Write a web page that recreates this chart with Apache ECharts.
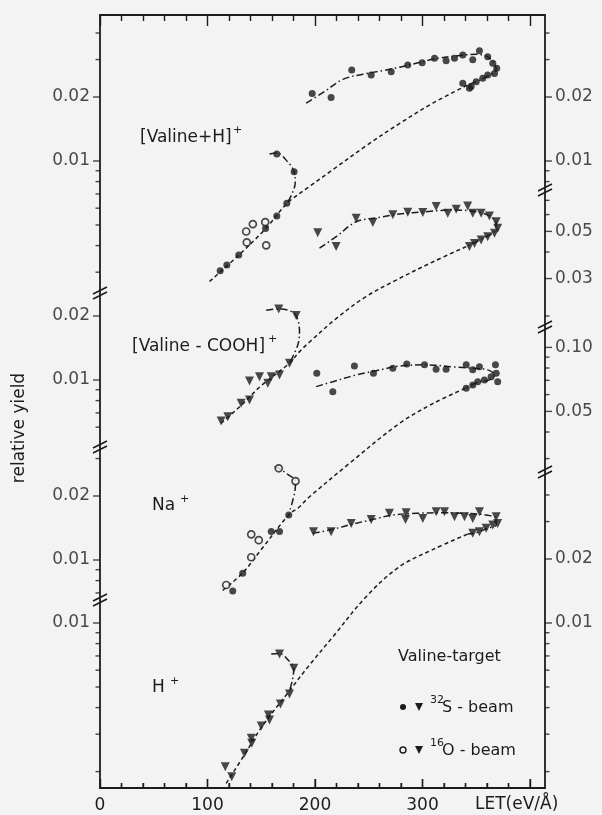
<!DOCTYPE html>
<html>
<head>
<meta charset="utf-8">
<script src="https://cdn.jsdelivr.net/npm/echarts@6/dist/echarts.min.js"></script>
<style>
html,body{margin:0;padding:0;background:#f3f3f3;}
#chart{width:602px;height:815px;}
</style>
</head>
<body>
<div id="chart"></div>
<script>
// LET axis
var letLabels = [0, 100, 200, 300];
var XMAX = 414;

// [Valine+H]+  (LET, relative yield)
var vhLowFilled = [[111.8,0.00305],[118,0.00324],[129.1,0.00361],[154,0.00482],[164.5,0.00551],[173.8,0.00633],[180.6,0.0089],[164.5,0.0108]];
var vhLowOpen = [[136,0.00466],[136.6,0.00414],[142.2,0.00505],[153.7,0.00516],[154.6,0.00401]];
var vhHook = [[157.7,0.0108],[164.5,0.0109],[174.7,0.0099],[180.6,0.0089],[181.6,0.0079],[178,0.0069],[173.8,0.0063]];
var vhFit = [[101.9,0.00271],[129.1,0.00361],[154,0.0048],[173.8,0.0063],[195,0.0076],[216.6,0.0091],[247.6,0.0118],[278.6,0.0150],[309.6,0.0187],[342.1,0.0228]];
var vhHigh = [[197.4,0.0208],[215,0.0199],[234.2,0.0268],[252.3,0.0254],[270.9,0.0263],[286.3,0.0283],[299.7,0.0290],[311.2,0.0304],[322,0.0296],[329.8,0.0304],[337.5,0.0315],[346.8,0.0299],[353,0.0330],[360.7,0.0309],[365.4,0.0288],[369.1,0.0273],[367,0.0258],[360.7,0.0254],[356.1,0.0245],[350,0.0236],[345.3,0.0224],[337.5,0.0232],[343.7,0.0220]];
var vhHighFit = [[191.8,0.0187],[208.8,0.0212],[225.9,0.0242],[244.5,0.0256],[263.1,0.0266],[278.6,0.0276],[294.1,0.0288],[309.6,0.0301],[331.4,0.0312],[350,0.0318],[360.7,0.0309],[367,0.0288],[368.6,0.0268],[362.3,0.0254],[353,0.0240],[342.1,0.0228]];

// [Valine-COOH]+
var vcLow = [[112.7,0.00641],[118.9,0.00672],[131.3,0.00777],[139.1,0.00805],[139.1,0.00989],[148.4,0.01036],[156.1,0.00965],[159.3,0.01036],[167,0.01055],[176.3,0.01198],[166.3,0.0216],[182.5,0.0201]];
var vcHook = [[154.6,0.0213],[166.3,0.0216],[176,0.0212],[182.5,0.0201],[185.6,0.0169],[184,0.0146],[176.3,0.0120]];
var vcFit = [[112.7,0.00626],[131.3,0.0076],[150,0.0094],[176.3,0.0120],[185.6,0.0136],[195,0.0151],[220,0.0195],[247.6,0.0247],[275.5,0.0295],[310,0.0360],[340.7,0.0424]];
var vcHigh = [[202.6,0.0493],[219.7,0.0424],[238.3,0.0577],[253.8,0.0550],[272.4,0.0598],[286.3,0.0616],[300.3,0.0614],[312.7,0.0654],[323.5,0.0609],[331.4,0.0635],[342.1,0.0658],[346.8,0.0609],[354.6,0.0609],[362.3,0.0591],[368.6,0.0555],[370,0.0517],[367,0.0490],[360.7,0.0472],[354.6,0.0455],[348.4,0.0439],[343.7,0.0424]];
var vcHighFit = [[204.2,0.0417],[219.7,0.0472],[238.3,0.0555],[260,0.0582],[278.6,0.0604],[303.4,0.0619],[328.2,0.0631],[350,0.0619],[362.3,0.0591],[368.6,0.0546],[367,0.0498],[359.3,0.0472],[350,0.0447],[340.7,0.0424]];

// Na+
var naLowOpen = [[166.3,0.0270],[181.9,0.0235],[140.7,0.0132],[147.7,0.0124],[140.7,0.0103],[117.4,0.00763]];
var naLowFilled = [[175.6,0.0163],[159.3,0.0136],[167,0.0136],[132.8,0.00866],[123.5,0.00715]];
var naHook = [[162.3,0.0275],[166.3,0.0270],[175,0.0252],[181.9,0.0235],[181,0.0206],[176.3,0.0169]];
var naFit = [[114.2,0.0072],[132.8,0.0087],[150,0.0112],[175.6,0.0163],[185.6,0.0178],[193.3,0.0195],[232.1,0.0285],[278.6,0.0439],[310,0.0545],[340.7,0.0645]];
var naHigh = [[201.7,0.0755],[216.6,0.0619],[236.7,0.0817],[254.4,0.0755],[272.4,0.0798],[285.4,0.0836],[301.9,0.0828],[312.7,0.0790],[322,0.0790],[340.7,0.0828],[346.8,0.0784],[353,0.0810],[367.9,0.0828],[368.6,0.0755],[370,0.0690],[363.9,0.0728],[357.7,0.0703],[351.4,0.0690],[346.8,0.0666],[340.7,0.0642]];
var naHighFit = [[201.1,0.0654],[216.6,0.0690],[238.3,0.0742],[256.9,0.0777],[278.6,0.0817],[303,0.0828],[328.2,0.0810],[346.8,0.0798],[360.7,0.0784],[367,0.0742],[362.3,0.0703],[353,0.0690],[340.7,0.0645]];

// H+
var hpLow = [[116.5,0.00211],[122.6,0.00189],[134.4,0.00244],[140.7,0.00287],[141.2,0.00272],[150,0.00328],[156.7,0.00369],[157.7,0.00350],[167.9,0.00416],[176.3,0.00463],[167,0.00715],[180.3,0.00612]];
var hpHook = [[159.3,0.00715],[167,0.00718],[175,0.0067],[180.3,0.00612],[179,0.00539],[176.3,0.0048]];
var hpFit = [[117.4,0.00176],[134.4,0.00240],[150,0.00322],[176.3,0.0048],[193.3,0.0062],[216.6,0.0086],[247.6,0.0133],[278.6,0.0184],[310,0.0222],[342.1,0.0262]];
var hpHigh = [[198.6,0.0269],[215,0.0269],[233.7,0.0294],[252.3,0.0307],[269.3,0.0328],[284.8,0.0330],[284.2,0.0307],[300.3,0.0310],[312.7,0.0334],[320.5,0.0334],[329.8,0.0316],[339.1,0.0316],[346.8,0.0310],[353,0.0334],[368.6,0.0316],[370,0.0294],[365.4,0.0289],[359.3,0.0279],[353,0.0269],[346.8,0.0264]];
var hpHighFit = [[198,0.0264],[216.6,0.0276],[235.2,0.0292],[253.8,0.0307],[272.4,0.0322],[294.1,0.0328],[318.9,0.0330],[340.7,0.0328],[359.3,0.0322],[368.6,0.0310],[368.6,0.0289],[360.7,0.0279],[350,0.0266],[342.1,0.0262]];

// axis ticks per broken section (left / right) and the labelled ones
var tickL1 = [0.04,0.03,0.02,0.01,0.009,0.008,0.007,0.006,0.005,0.004,0.003];
var labL1 = [0.02,0.01];
var tickR1 = [0.04,0.03,0.02,0.01,0.009,0.008];
var labR1 = [0.02,0.01];
var tickL2 = [0.02,0.01,0.009,0.008,0.007,0.006];
var labL2 = [0.02,0.01];
var tickR2 = [0.07,0.06,0.05,0.04,0.03,0.02];
var labR2 = [0.05,0.03];
var tickL3 = [0.03,0.02,0.01,0.009,0.008,0.007];
var labL3 = [0.02,0.01];
var tickR3 = [0.1,0.09,0.08,0.07,0.06,0.05,0.04,0.03];
var labR3 = [0.1,0.05];
var tickL4 = [0.01,0.009,0.008,0.007,0.006,0.005,0.004,0.003,0.002];
var labL4 = [0.01];
var tickR4 = [0.04,0.03,0.02,0.01,0.009,0.008,0.007,0.006,0.005,0.004,0.003,0.002];
var labR4 = [0.02,0.01];

var INK = '#1c1c1c';
var BG = '#f3f3f3';
var FONT = 'DejaVu Sans';
var G = {left:100, top:15, width:445, height:773};
var GT = {left:100, top:15, width:430, height:773};   // 0..400 part, for the LET ticks
var GB = {left:100, top:788, width:430, height:1};    // strip on the bottom edge, ticks point up
var PXDEC = 212.6;   // pixels per decade on every panel
var row001 = [161, 380, 560, 623];   // pixel row of 0.01 in each panel

function logRange(y01){
	return {
		min: 0.01*Math.pow(10, -(G.top+G.height-y01)/PXDEC),
		max: 0.01*Math.pow(10, (y01-G.top)/PXDEC)
	};
}

var chart = echarts.init(document.getElementById('chart'));

var tickStyle = {color:INK,width:1.4};
var labelAxis = {gridIndex:0,type:'value',min:0,max:400,interval:100,position:'bottom',
	axisLine:{show:false,onZero:false},axisTick:{show:false},
	axisLabel:{fontSize:17,color:INK,fontFamily:FONT,margin:9,
		formatter:function(v){return letLabels.indexOf(v)>=0 ? String(v) : '';}},
	splitLine:{show:false}};
var topTicks = {gridIndex:1,type:'value',min:0,max:400,interval:100,position:'top',
	axisLine:{show:false,onZero:false},
	axisTick:{show:true,inside:true,length:11,lineStyle:tickStyle},
	minorTick:{show:true,splitNumber:5,length:6,lineStyle:tickStyle},
	axisLabel:{show:false},splitLine:{show:false}};
var bottomTicks = {gridIndex:3,type:'value',min:0,max:400,interval:100,position:'top',
	axisLine:{show:false,onZero:false},
	axisTick:{show:true,inside:false,length:9,lineStyle:tickStyle},
	minorTick:{show:true,splitNumber:5,length:5,lineStyle:tickStyle},
	axisLabel:{show:false},splitLine:{show:false}};
var frameAxis = function(pos, dim){
	return {gridIndex:2,type:'value',min:0,max:dim==='x' ? XMAX : 1,position:pos,
		axisLine:{show:true,onZero:false,lineStyle:{color:INK,width:1.8}},
		axisTick:{show:false},axisLabel:{show:false},splitLine:{show:false}};
};

var grids = [GT, GT, G, GB];
var xAxes = [labelAxis, topTicks, frameAxis('bottom','x'), frameAxis('top','x'), bottomTicks];
var yAxes = [
	{gridIndex:0,type:'value',min:0,max:1,show:false},
	{gridIndex:1,type:'value',min:0,max:1,show:false},
	frameAxis('left','y'), frameAxis('right','y'),
	{gridIndex:3,type:'value',min:0,max:1,show:false}
];
for(var i = 0;i<4;i++){
	grids.push(G);
	var r = logRange(row001[i]);
	xAxes.push({gridIndex:i+4,type:'value',min:0,max:XMAX,show:false});
	yAxes.push({gridIndex:i+4,type:'log',logBase:10,min:r.min,max:r.max,show:false});
}

var series = [];
var P0 = 5;   // first panel axis index

// LET ticks on the bottom edge, on the plain 0..400 grid (y = 0 is the bottom edge)
var bt = [];
for(var x = 0;x<=400;x += 20){
	var blen = x%100===0 ? 9 : 5;
	bt.push({value:[x,0],symbolSize:[1.4,blen],symbolOffset:[0,-blen/2]});
}
series.push({type:'scatter',xAxisIndex:0,yAxisIndex:0,silent:true,clip:false,z:6,
	symbol:'rect',itemStyle:{color:INK},data:bt});

function ticks(p, vals, labs, side){
	series.push({
		type:'scatter',xAxisIndex:P0+p,yAxisIndex:P0+p,silent:true,clip:false,z:5,
		symbol:'rect',
		itemStyle:{color:INK},
		label:{fontSize:17,color:INK,fontFamily:FONT},
		data:vals.map(function(t){
			var lab = labs.indexOf(t)>=0;
			var len = lab ? 7 : 4.5;
			return {
				value:[side==='left' ? 0 : XMAX, t],
				symbolSize:[len,1.4],
				symbolOffset:[side==='left' ? -len/2 : len/2, 0],
				label:{show:lab,position:side,distance:3,formatter:t.toFixed(2)}
			};
		})
	});
}
function fit(p, data, dash){
	series.push({
		type:'line',xAxisIndex:P0+p,yAxisIndex:P0+p,silent:true,clip:false,z:2,
		data:data,showSymbol:false,smooth:0.35,
		lineStyle:{color:INK,width:1.5,type:dash}
	});
}
function marks(p, data, shape, open){
	series.push({
		type:'scatter',xAxisIndex:P0+p,yAxisIndex:P0+p,silent:true,clip:false,z:4,
		data:data,
		symbol:shape==='tri' ? 'triangle' : 'circle',
		symbolRotate:shape==='tri' ? 180 : 0,
		symbolSize:shape==='tri' ? 9 : 7,
		itemStyle:open ? {color:BG,borderColor:INK,borderWidth:1.7} : {color:INK}
	});
}

var DASH = [4,3];
var DASHDOT = [7,3,1.5,3];

ticks(0,tickL1,labL1,'left'); ticks(0,tickR1,labR1,'right');
ticks(1,tickL2,labL2,'left'); ticks(1,tickR2,labR2,'right');
ticks(2,tickL3,labL3,'left'); ticks(2,tickR3,labR3,'right');
ticks(3,tickL4,labL4,'left'); ticks(3,tickR4,labR4,'right');

fit(0,vhFit,DASH); fit(0,vhHook,DASHDOT); fit(0,vhHighFit,DASHDOT);
marks(0,vhLowFilled,'dot',false); marks(0,vhLowOpen,'dot',true); marks(0,vhHigh,'dot',false);

fit(1,vcFit,DASH); fit(1,vcHook,DASHDOT); fit(1,vcHighFit,DASHDOT);
marks(1,vcLow,'tri',false); marks(1,vcHigh,'tri',false);

fit(2,naFit,DASH); fit(2,naHook,DASHDOT); fit(2,naHighFit,DASHDOT);
marks(2,naLowFilled,'dot',false); marks(2,naLowOpen,'dot',true); marks(2,naHigh,'dot',false);

fit(3,hpFit,DASH); fit(3,hpHook,DASHDOT); fit(3,hpHighFit,DASHDOT);
marks(3,hpLow,'tri',false); marks(3,hpHigh,'tri',false);

// axis break marks
function brk(x, y){
	return {type:'group',x:x,y:y,z:20,children:[
		{type:'line',shape:{x1:-7,y1:1,x2:7,y2:-6},style:{stroke:INK,lineWidth:1.6}},
		{type:'line',shape:{x1:-7,y1:6,x2:7,y2:-1},style:{stroke:INK,lineWidth:1.6}}
	]};
}
function txt(x, y, s, size, align){
	return {type:'text',x:x,y:y,z:20,style:{text:s,fontSize:size,fontFamily:FONT,fill:INK,
		align:align||'left',verticalAlign:'middle'}};
}
var tri = function(cx, cy){
	return {type:'polygon',z:20,shape:{points:[[cx-4,cy-4],[cx+4,cy-4],[cx,cy+4]]},style:{fill:INK}};
};

var graphics = [
	brk(100,293), brk(100,447), brk(100,600),
	brk(545,190), brk(545,327), brk(545,472),
	txt(140,138,'[Valine+H]',17), txt(233,130,'+',11),
	txt(132,347,'[Valine - COOH]',17), txt(268,339,'+',11),
	txt(152,506,'Na',17), txt(180,499,'+',11),
	txt(152,688,'H',17), txt(170,681,'+',11),
	txt(475,805,'LET(eV/Å)',17),
	txt(398,657,'Valine-target',16),
	{type:'circle',z:20,shape:{cx:403,cy:707,r:3},style:{fill:INK}},
	tri(419,707),
	txt(430,700,'32',11), txt(442,708,'S - beam',16),
	{type:'circle',z:20,shape:{cx:403,cy:750,r:3},style:{fill:BG,stroke:INK,lineWidth:1.4}},
	tri(419,750),
	txt(430,743,'16',11), txt(442,751,'O - beam',16),
	{type:'text',x:20,y:428,rotation:Math.PI/2,z:20,
		style:{text:'relative yield',fontSize:17,fontFamily:FONT,fill:INK,align:'center',verticalAlign:'middle'}}
];

chart.setOption({
	backgroundColor:BG,
	animation:false,
	grid:grids,
	xAxis:xAxes,
	yAxis:yAxes,
	series:series,
	graphic:graphics
});
</script>
</body>
</html>
